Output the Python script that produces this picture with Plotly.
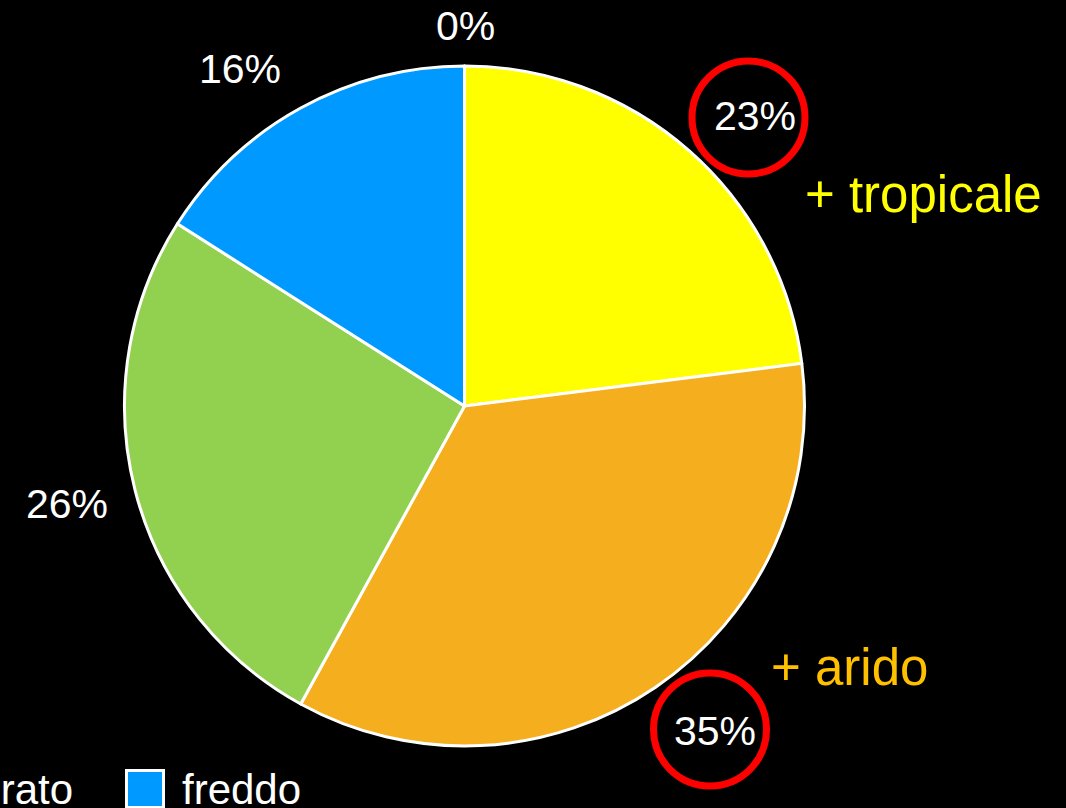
import plotly.graph_objects as go

# Köppen climate groups and their share (%)
categories = ["tropicale", "arido", "temperato", "freddo", "polare"]
shares = [23, 35, 26, 16, 0]
slice_colors = ["#FFFF00", "#F5AE1D", "#92D050", "#0099FF", "#FFFFFF"]

# groups called out on the right of the pie
callouts = ["tropicale", "arido"]
callout_text = ["+ tropicale", "+ arido"]
callout_colors = ["#FFFF00", "#FFC000"]

W, H = 1066, 808
FONT = "Liberation Sans, Arial, sans-serif"


def px(x):
    return x / W


def py(y):
    return 1 - y / H


# pie geometry in pixels
cx, cy, r = 464.5, 406, 340

fig = go.Figure(
    go.Pie(
        labels=categories,
        values=shares,
        sort=False,
        direction="clockwise",
        rotation=0,
        marker=dict(colors=slice_colors, line=dict(color="white", width=3)),
        textinfo="none",
        hoverinfo="label+percent",
        showlegend=False,
        domain=dict(x=[px(cx - r), px(cx + r)], y=[py(cy + r), py(cy - r)]),
    )
)

annotations = []
shapes = []

# percentage labels placed around the pie
label_pos = {
    "tropicale": (755.5, 116.5),
    "arido": (715, 731),
    "temperato": (66.5, 504),
    "freddo": (240, 68.5),
    "polare": (465, 26),
}
for cat, val in zip(categories, shares):
    x, y = label_pos[cat]
    annotations.append(dict(
        x=px(x), y=py(y), xref="paper", yref="paper",
        text=f"{val}%", showarrow=False, xanchor="center", yanchor="middle",
        font=dict(family=FONT, size=41, color="white"),
    ))

# red rings around the highlighted percentages
ring_pos = {"tropicale": (748.5, 117.5, 56.5), "arido": (710, 729.5, 56.5)}
for cat in callouts:
    x, y, rr = ring_pos[cat]
    shapes.append(dict(
        type="circle", xref="paper", yref="paper",
        x0=px(x - rr), x1=px(x + rr), y0=py(y + rr), y1=py(y - rr),
        line=dict(color="#FF0000", width=7),
    ))

# coloured callout texts
callout_pos = {"tropicale": (923, 194), "arido": (849, 667)}
for cat, txt, col in zip(callouts, callout_text, callout_colors):
    x, y = callout_pos[cat]
    annotations.append(dict(
        x=px(x), y=py(y), xref="paper", yref="paper",
        text=txt, showarrow=False, xanchor="center", yanchor="middle",
        font=dict(family=FONT, size=51, color=col),
    ))

# legend: first row laid out right to left from its last entry,
# remaining entries wrap onto a second row
LEG_FS = 42
SQ = 40
GAP = 51          # space between an entry's text and the next square
SQ_TO_TEXT = 56   # square left edge to text start
row_items = categories[:4]
row_y = [789, 849]


def add_entry(cat, sq_left, y, text_anchor_x, anchor):
    col = slice_colors[categories.index(cat)]
    shapes.append(dict(
        type="rect", xref="paper", yref="paper",
        x0=px(sq_left + 1.5), x1=px(sq_left + SQ - 1.5),
        y0=py(y + SQ / 2 - 1.5), y1=py(y - SQ / 2 + 1.5),
        line=dict(color="white", width=3), fillcolor=col,
    ))
    annotations.append(dict(
        x=px(text_anchor_x), y=py(y), xref="paper", yref="paper",
        text=cat, showarrow=False, xanchor=anchor, yanchor="middle",
        borderpad=0,
        font=dict(family=FONT, size=LEG_FS, color="white"),
    ))


last_sq = 125
add_entry(row_items[-1], last_sq, row_y[0], last_sq + SQ_TO_TEXT, "left")
next_sq = last_sq
for cat in reversed(row_items[:-1]):
    text_right = next_sq - GAP
    est_w = 0.53 * LEG_FS * len(cat)
    sq_left = text_right - est_w - SQ_TO_TEXT
    add_entry(cat, sq_left, row_y[0], text_right, "right")
    next_sq = sq_left
for cat in categories[len(row_items):]:
    add_entry(cat, last_sq - 200, row_y[1], last_sq - 200 + SQ_TO_TEXT, "left")

fig.update_layout(
    width=W, height=H,
    margin=dict(l=0, r=0, t=0, b=0),
    paper_bgcolor="black", plot_bgcolor="black",
    font=dict(family=FONT, color="white"),
    annotations=annotations,
    shapes=shapes,
)

fig.write_html("out.html")
